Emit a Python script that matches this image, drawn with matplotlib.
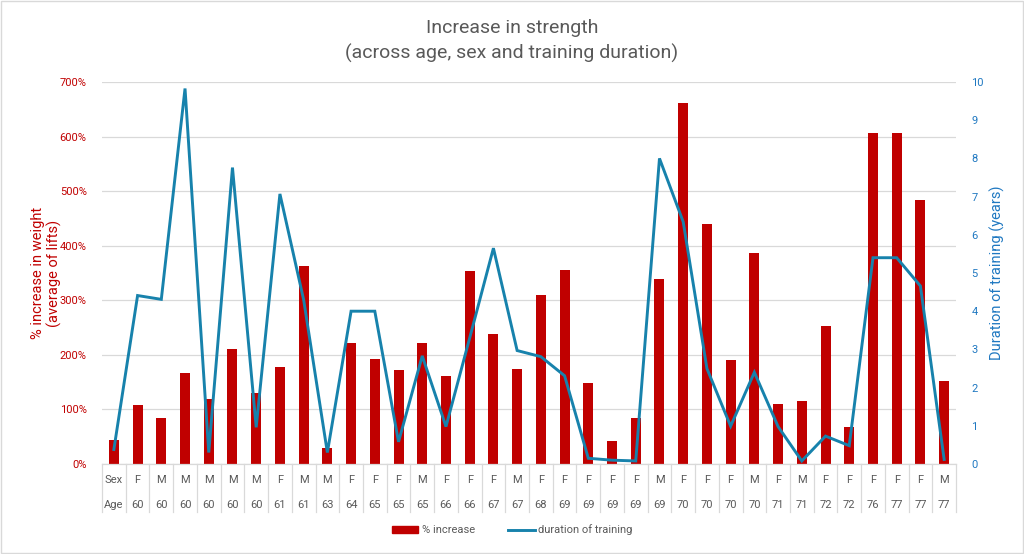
import matplotlib
matplotlib.use("Agg")
import matplotlib.pyplot as plt
from matplotlib.lines import Line2D
from matplotlib.patches import Patch, Rectangle
from matplotlib.ticker import FuncFormatter, MultipleLocator

plt.rcParams['font.family'] = ['Roboto', 'DejaVu Sans']

sex = ["Sex", "F", "M", "M", "M", "M", "M", "F", "M", "M", "F", "F", "F", "M", "F", "F",
       "F", "M", "F", "F", "F", "F", "F", "M", "F", "F", "F", "M", "F", "M", "F", "F",
       "F", "F", "F", "M"]
age = ["Age", "60", "60", "60", "60", "60", "60", "61", "61", "63", "64", "65", "65", "65", "66", "66",
       "67", "67", "68", "69", "69", "69", "69", "69", "70", "70", "70", "70", "71", "71", "72", "72",
       "76", "77", "77", "77"]
pct_increase = [44, 108, 84, 167, 119, 210, 130, 178, 362, 30, 222, 192, 173, 221, 161, 354,
                238, 174, 310, 355, 148, 43, 84, 339, 662, 439, 190, 387, 110, 116, 252, 68,
                606, 606, 484, 153]
duration = [0.38, 4.41, 4.31, 9.83, 0.3, 7.76, 0.96, 7.07, 4.3, 0.3, 4.0, 4.0, 0.58, 2.83, 0.98, 3.3,
            5.65, 2.97, 2.81, 2.31, 0.15, 0.1, 0.08, 8.0, 6.34, 2.5, 0.99, 2.4, 0.98, 0.08, 0.73, 0.48,
            5.4, 5.4, 4.66, 0.12]

RED = "#C00000"
LINE = "#1782AC"
BLUE_TXT = "#1F78C1"
GRAY = "#595959"
GRID = "#D9D9D9"

W, H = 1024, 554
fig = plt.figure(figsize=(W / 100, H / 100), dpi=100)
left, right, bottom, top = 102, 956, 464, 82
ax = fig.add_axes([left / W, (H - bottom) / H, (right - left) / W, (bottom - top) / H])
ax2 = ax.twinx()

x = list(range(len(sex)))
ax.bar(x, [v / 100 for v in pct_increase], width=0.42, color=RED, zorder=2)
ax2.plot(x, duration, color=LINE, lw=2.1, solid_joinstyle='miter', zorder=3)

ax.set_xlim(-0.5, len(sex) - 0.5)
ax.set_ylim(0, 7)
ax2.set_ylim(0, 10)
ax.yaxis.set_major_locator(MultipleLocator(1))
ax2.yaxis.set_major_locator(MultipleLocator(1))
ax.yaxis.set_major_formatter(FuncFormatter(lambda v, p: f"{v * 100:.0f}%"))
ax.grid(axis='y', color=GRID, lw=0.9, zorder=0)
ax.set_axisbelow(True)

for a in (ax, ax2):
    for s in ('top', 'right', 'left', 'bottom'):
        a.spines[s].set_visible(False)
ax.set_xticks([])
ax.tick_params(axis='y', length=0, pad=11, labelsize=8, labelcolor=RED)
ax2.tick_params(axis='y', length=0, pad=11, labelsize=8, labelcolor=BLUE_TXT)

ax.set_ylabel("% increase in weight\n(average of lifts)", color=RED, fontsize=10.5, linespacing=1.1)
ax.yaxis.set_label_coords(-0.047, 0.5)
ax2.set_ylabel("Duration of training (years)", color=BLUE_TXT, fontsize=10.5)
ax2.yaxis.set_label_coords(1.040, 0.5)

# category table below the axis
tr = ax.get_xaxis_transform()
h = bottom - top
ax.plot([-0.5, len(sex) - 0.5], [0, 0], transform=tr, color=GRID, lw=0.9, clip_on=False, zorder=4)
for i in range(len(sex) + 1):
    ax.plot([i - 0.5, i - 0.5], [0, -(512 - bottom) / h], transform=tr, color=GRID, lw=0.9,
            clip_on=False)
for i, (s, a_) in enumerate(zip(sex, age)):
    ax.text(i, -(480 - bottom) / h, s, transform=tr, ha='center', va='center', fontsize=8, color=GRAY)
    ax.text(i, -(505 - bottom) / h, a_, transform=tr, ha='center', va='center', fontsize=8, color=GRAY)

fig.text(0.5, (H - 41) / H, "Increase in strength\n(across age, sex and training duration)",
         ha='center', va='center', fontsize=14, color=GRAY, linespacing=1.5)

handles = [Patch(facecolor=RED, edgecolor=RED), Line2D([0], [0], color=LINE, lw=2.1)]
fig.legend(handles, ["% increase", "duration of training"], loc='center',
           bbox_to_anchor=(0.5, (H - 530) / H), ncol=2, frameon=False, fontsize=8,
           labelcolor=GRAY, handlelength=2.4, handleheight=0.5, columnspacing=3.0, handletextpad=0.3)

fig.patches.append(Rectangle((0.001, 0.001), 0.998, 0.997, transform=fig.transFigure,
                             fill=False, edgecolor=GRID, lw=1))

fig.savefig("out.png", dpi=100)
